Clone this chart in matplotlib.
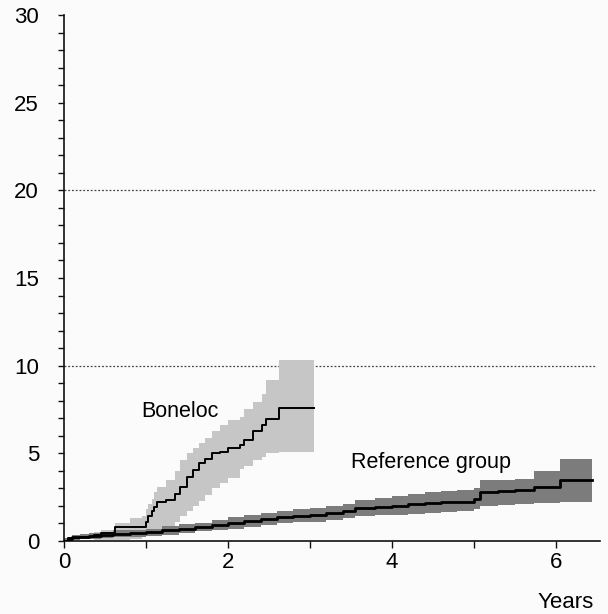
import matplotlib
matplotlib.use("Agg")
import matplotlib.pyplot as plt
import numpy as np

plt.rcParams['font.family'] = ['Liberation Sans', 'DejaVu Sans']

# Boneloc (step curve with confidence band)
bon_t = [0.0, 0.05, 0.2, 0.36, 0.45, 0.62, 0.8, 0.95, 1.0, 1.03, 1.07, 1.1, 1.14, 1.25,
         1.36, 1.42, 1.5, 1.58, 1.65, 1.72, 1.8, 1.9, 2.0, 2.15, 2.2, 2.3, 2.42, 2.46, 2.62, 3.05]
bon_v = [0.0, 0.15, 0.25, 0.35, 0.45, 0.8, 0.8, 0.8, 1.1, 1.4, 1.7, 1.95, 2.2, 2.35,
         2.7, 3.1, 3.65, 4.05, 4.45, 4.7, 5.0, 5.1, 5.3, 5.5, 5.75, 6.3, 6.6, 6.95, 7.6, 7.6]
bon_lo = [0.0, 0.15, 0.25, 0.05, 0.05, 0.05, 0.1, 0.2, 0.3, 0.4, 0.5, 0.6, 0.7, 0.8,
          1.1, 1.4, 1.7, 2.0, 2.3, 2.6, 3.0, 3.3, 3.6, 4.1, 4.3, 4.6, 4.8, 5.0, 5.1, 5.1]
bon_hi = [0.0, 0.15, 0.25, 0.5, 0.6, 1.0, 1.3, 1.4, 1.8, 2.1, 2.4, 2.8, 3.1, 3.5,
          4.0, 4.6, 5.0, 5.3, 5.6, 5.9, 6.3, 6.6, 6.9, 7.1, 7.5, 7.9, 8.4, 9.2, 10.3, 10.3]

# Reference group
ref_t = [0.0, 0.05, 0.1, 0.2, 0.3, 0.45, 0.6, 0.8, 1.0, 1.2, 1.4, 1.6, 1.8, 2.0, 2.2, 2.4,
         2.6, 2.8, 3.0, 3.2, 3.4, 3.55, 3.8, 4.0, 4.2, 4.4, 4.6, 4.8, 5.0, 5.08, 5.3, 5.5,
         5.74, 6.05, 6.44]
ref_v = [0.0, 0.1, 0.2, 0.25, 0.3, 0.35, 0.4, 0.45, 0.5, 0.6, 0.7, 0.8, 0.9, 1.05, 1.15, 1.25,
         1.35, 1.45, 1.5, 1.6, 1.7, 1.9, 1.95, 2.0, 2.1, 2.15, 2.2, 2.25, 2.4, 2.8, 2.85, 2.9,
         3.1, 3.5, 3.5]
ref_lo = [0.0, 0.0, 0.05, 0.1, 0.12, 0.15, 0.2, 0.25, 0.3, 0.35, 0.45, 0.55, 0.6, 0.7, 0.8, 0.9,
          1.0, 1.1, 1.1, 1.2, 1.3, 1.45, 1.5, 1.5, 1.55, 1.6, 1.65, 1.7, 1.8, 2.0, 2.05, 2.1,
          2.15, 2.2, 2.2]
ref_hi = [0.15, 0.25, 0.35, 0.4, 0.45, 0.5, 0.6, 0.65, 0.7, 0.85, 0.95, 1.05, 1.2, 1.35, 1.5, 1.6,
          1.7, 1.8, 1.9, 2.0, 2.1, 2.35, 2.45, 2.55, 2.7, 2.8, 2.85, 2.9, 3.05, 3.5, 3.5, 3.55,
          4.0, 4.7, 4.7]

x_ticks = [0, 1, 2, 3, 4, 5, 6]
x_labels = ['0', '', '2', '', '4', '', '6']
y_major = [0, 5, 10, 15, 20, 25, 30]
grid_levels = [10, 20]

fig = plt.figure(figsize=(6.08, 6.14), dpi=100)
fig.patch.set_facecolor('#fbfbfb')
ax = fig.add_axes([64/608, 1 - 541/614, (600 - 64)/608, (541 - 15)/614])
ax.set_facecolor('#fbfbfb')

ax.fill_between(bon_t, bon_lo, bon_hi, step='post', color='#c6c6c6', lw=0, zorder=1)
ax.fill_between(ref_t, ref_lo, ref_hi, step='post', color='#7c7c7c', lw=0, zorder=2)
ax.step(bon_t, bon_v, where='post', color='black', lw=1.4, zorder=3)
ax.step(ref_t, ref_v, where='post', color='black', lw=2.0, zorder=4)

for g in grid_levels:
    ax.axhline(g, xmin=0, xmax=0.99, color='#444444', lw=0.9, ls=(0, (1.5, 1.5)), zorder=0)

ax.set_xlim(0, 6.54)
ax.set_ylim(0, 30)
for s in ['top', 'right']:
    ax.spines[s].set_visible(False)
for s in ['left', 'bottom']:
    ax.spines[s].set_linewidth(1.2)
    ax.spines[s].set_color('#111111')

ax.set_xticks(x_ticks)
ax.set_xticklabels(x_labels)
ax.set_yticks(y_major)
ax.set_yticks(np.arange(0, 31, 1), minor=True)
ax.tick_params(axis='both', which='both', direction='out', color='#111111', width=1.0,
               labelsize=16, colors='#000000')
ax.tick_params(axis='x', which='major', length=5, pad=3)
ax.tick_params(axis='y', which='major', length=4, pad=14)
ax.tick_params(axis='y', which='minor', length=4)

ax.text(1.42, 7.4, 'Boneloc', fontsize=15.5, ha='center', va='center', color='#000000')
ax.text(4.48, 4.5, 'Reference group', fontsize=15.5, ha='center', va='center', color='#000000')
fig.text(566/608, 1 - 603/614, 'Years', fontsize=16, ha='center', va='center', color='#000000')

fig.savefig('out.png', dpi=100, facecolor=fig.get_facecolor())
